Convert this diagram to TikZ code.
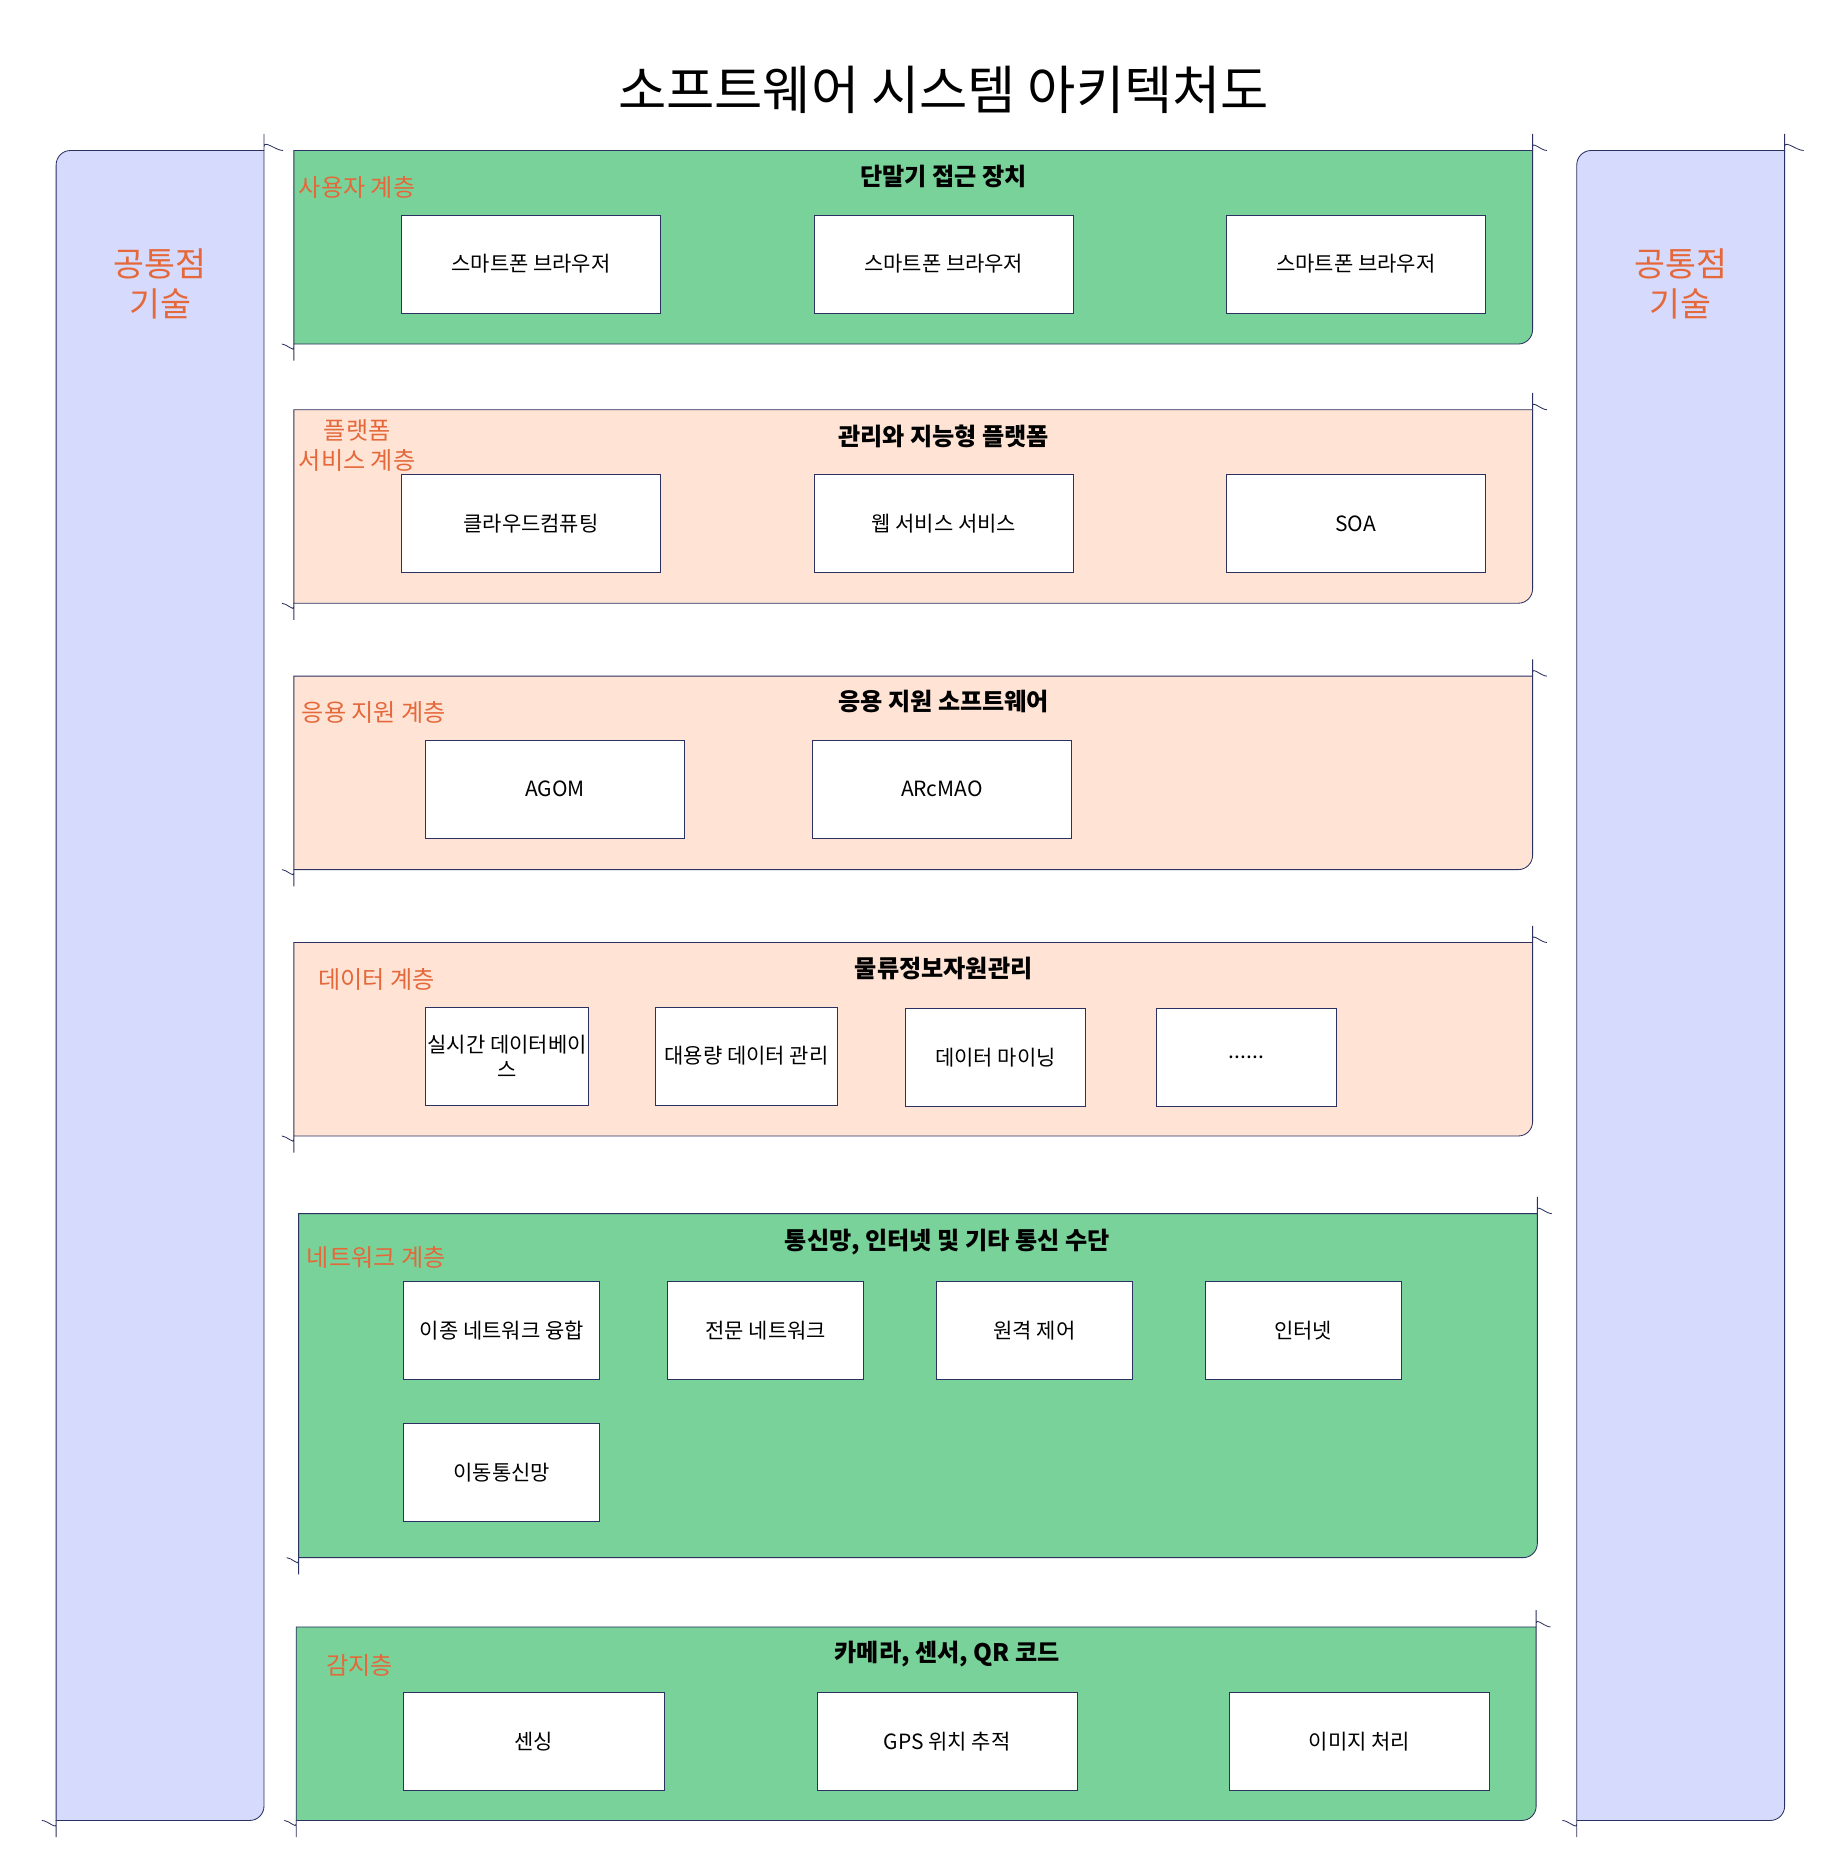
\documentclass[tikz,border=0pt]{standalone}
\usepackage{fontspec}
\setmainfont{Noto Sans CJK KR}
\definecolor{navy}{HTML}{2B3160}
\definecolor{lgreen}{HTML}{78D29A}
\definecolor{lpeach}{HTML}{FFE4D6}
\definecolor{lviolet}{HTML}{D6DAFC}
\definecolor{orng}{HTML}{E5683A}
\tikzset{
  itembox/.style={draw=navy,fill=white,minimum height=1.64cm,font=\fontsize{10}{12}\selectfont,align=center,inner sep=1pt},
  header/.style={font=\bfseries\fontsize{11.5}{13}\selectfont},
  layerlabel/.style={text=orng,font=\fontsize{11.5}{14}\selectfont,align=center},
}
% panel: x1, y1, x2, y2, fill
\newcommand\layerpanel[5]{%
  \draw[navy,fill=#5] (#1,#2) -- (#3,#2) -- (#3,#4-12) to[out=-90,in=0] (#3-12,#4) -- (#1,#4) -- cycle;
  \draw[navy] (#3,#2) -- (#3,#2-14) (#3,#2-3) to[out=90,in=180] (#3+12,#2);
  \draw[navy] (#1,#4) -- (#1,#4+14) (#1,#4+3) to[out=-90,in=0] (#1-10,#4);
}
\begin{document}
\begin{tikzpicture}[x=0.02cm,y=-0.02cm]
\useasboundingbox (0,0) rectangle (1540,1568);
\node[font=\fontsize{25}{30}\selectfont] (title) at (790,75) {소프트웨어 시스템 아키텍처도};
% common technology side panels
\foreach \xa/\xb/\nm in {47/221/lside,1320/1494/rside}{
  \draw[navy,fill=lviolet] (\xa,138) to[out=90,in=180] (\xa+12,126) -- (\xb,126) -- (\xb,1512) to[out=-90,in=0] (\xb-12,1524) -- (\xa,1524) -- cycle;
  \draw[navy] (\xb,126) -- (\xb,112) (\xb,123) to[out=90,in=180] (\xb+16,126);
  \draw[navy] (\xa,1524) -- (\xa,1538) (\xa,1527) to[out=-90,in=0] (\xa-12,1524);
  \node[layerlabel,font=\fontsize{16}{19}\selectfont] (\nm) at ({(\xa+\xb)/2},238) {공통점\\기술};
}
% layers
\layerpanel{246}{126}{1283}{288}{lgreen}
\layerpanel{246}{343}{1283}{505}{lpeach}
\layerpanel{246}{566}{1283}{728}{lpeach}
\layerpanel{246}{789}{1283}{951}{lpeach}
\layerpanel{250}{1016}{1287}{1304}{lgreen}
\layerpanel{248}{1362}{1286}{1524}{lgreen}
% user layer
\node[layerlabel] (l1) at (299,157) {사용자 계층};
\node[header] (h1) at (790,148) {단말기 접근 장치};
\node[itembox,minimum width=4.34cm] (u1) at (444.5,221) {스마트폰 브라우저};
\node[itembox,minimum width=4.34cm] (u2) at (790,221) {스마트폰 브라우저};
\node[itembox,minimum width=4.34cm] (u3) at (1135,221) {스마트폰 브라우저};
% platform layer
\node[layerlabel] (l2) at (299,373) {플랫폼\\서비스 계층};
\node[header] (h2) at (790,365) {관리와 지능형 플랫폼};
\node[itembox,minimum width=4.34cm] (p1) at (444.5,438.5) {클라우드컴퓨팅};
\node[itembox,minimum width=4.34cm] (p2) at (790,438.5) {웹 서비스 서비스};
\node[itembox,minimum width=4.34cm] (p3) at (1135,438.5) {SOA};
% application support layer
\node[layerlabel] (l3) at (313,596) {응용 지원 계층};
\node[header] (h3) at (790,587) {응용 지원 소프트웨어};
\node[itembox,minimum width=4.34cm] (a1) at (464.5,660.5) {AGOM};
\node[itembox,minimum width=4.34cm] (a2) at (788.5,660.5) {ARcMAO};
% data layer
\node[layerlabel] (l4) at (315,820) {데이터 계층};
\node[header] (h4) at (790,811) {물류정보자원관리};
\node[itembox,minimum width=2.7cm] (d1) at (424.5,884) {실시간 데이터베이\\스};
\node[itembox,minimum width=3.04cm] (d2) at (625,884) {대용량 데이터 관리};
\node[itembox,minimum width=3.02cm] (d3) at (833.5,885.5) {데이터 마이닝};
\node[itembox,minimum width=3.02cm] (d4) at (1043.5,885.5) {......};
% network layer
\node[layerlabel] (l5) at (315,1053) {네트워크 계층};
\node[header] (h5) at (793,1040) {통신망, 인터넷 및 기타 통신 수단};
\node[itembox,minimum width=3.28cm] (n1) at (420,1114) {이종 네트워크 융합};
\node[itembox,minimum width=3.28cm] (n2) at (641,1114) {전문 네트워크};
\node[itembox,minimum width=3.28cm] (n3) at (866,1114) {원격 제어};
\node[itembox,minimum width=3.28cm] (n4) at (1091,1114) {인터넷};
\node[itembox,minimum width=3.28cm] (n5) at (420,1233) {이동통신망};
% sensing layer
\node[layerlabel] (l6) at (301,1394) {감지층};
\node[header] (h6) at (793,1385) {카메라, 센서, QR 코드};
\node[itembox,minimum width=4.36cm] (s1) at (447,1458) {센싱};
\node[itembox,minimum width=4.36cm] (s2) at (793,1458) {GPS 위치 추적};
\node[itembox,minimum width=4.36cm] (s3) at (1138,1458) {이미지 처리};
\end{tikzpicture}
\end{document}
